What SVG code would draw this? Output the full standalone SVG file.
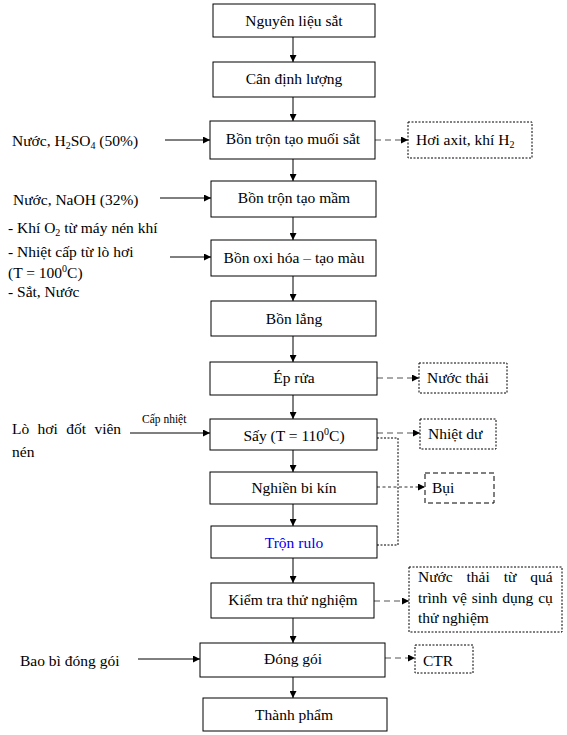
<svg xmlns="http://www.w3.org/2000/svg" width="567" height="735" viewBox="0 0 567 735" font-family="'Liberation Serif', 'DejaVu Serif', serif" font-size="15.5">
<style>
text{font-family:'Liberation Serif','DejaVu Serif',serif;font-size:15.5px;fill:#000}
.c{text-anchor:middle}
.box{fill:#fff;stroke:#000;stroke-width:1}
.sbox{fill:#fff;stroke:#000;stroke-width:1;stroke-dasharray:2,1.5}
.sbox2{fill:#fff;stroke:#000;stroke-width:1;stroke-dasharray:5,3}
.flow{stroke:#000;stroke-width:1;fill:none;marker-end:url(#ah)}
.dash{stroke:#555;stroke-width:1.2;fill:none;stroke-dasharray:6,4;marker-end:url(#ah)}
.dash2{stroke:#333;stroke-width:1;fill:none;stroke-dasharray:3,2.5;marker-end:url(#ah)}
.dot{stroke:#000;stroke-width:1;fill:none;stroke-dasharray:2,1.5}
.sub{font-size:10px}
.sm{font-size:11.5px}
</style>
<defs>
<marker id="ah" viewBox="0 0 10 10" refX="10" refY="5" markerWidth="7" markerHeight="7" markerUnits="userSpaceOnUse" orient="auto">
<path d="M0,0 L10,5 L0,10 z" fill="#000"/>
</marker>
</defs>

<g id="connectors">
<line class="flow" x1="293" y1="37" x2="293" y2="62"/>
<line class="flow" x1="293" y1="97" x2="293" y2="121"/>
<line class="flow" x1="293" y1="159" x2="293" y2="181"/>
<line class="flow" x1="293" y1="217" x2="293" y2="240"/>
<line class="flow" x1="293" y1="276" x2="293" y2="301"/>
<line class="flow" x1="293" y1="336" x2="293" y2="362"/>
<line class="flow" x1="293" y1="395" x2="293" y2="419"/>
<line class="flow" x1="293" y1="450" x2="293" y2="472"/>
<line class="flow" x1="293" y1="504" x2="293" y2="526"/>
<line class="flow" x1="293" y1="558" x2="293" y2="583"/>
<line class="flow" x1="293" y1="618" x2="293" y2="643"/>
<line class="flow" x1="293" y1="677" x2="293" y2="698"/>

<line class="flow" x1="165" y1="140" x2="210" y2="140"/>
<line class="flow" x1="160" y1="198" x2="211" y2="198"/>
<line class="flow" x1="170" y1="257" x2="211" y2="257"/>
<line class="flow" x1="130" y1="433" x2="210" y2="433"/>
<line class="flow" x1="138" y1="659" x2="200" y2="659"/>

<line class="dash" x1="375" y1="140" x2="408" y2="140"/>
<line class="dash" x1="377" y1="378" x2="419" y2="378"/>
<line class="dash" x1="377" y1="433" x2="420" y2="433"/>
<line class="dash2" x1="377" y1="487" x2="425" y2="487"/>
<line class="dash" x1="374" y1="601" x2="409" y2="601"/>
<line class="dash" x1="385" y1="658" x2="415" y2="658"/>

<polyline class="dot" points="377,438 398,438 398,545 377,545"/>
<text class="sm" x="142" y="423">Cấp nhiệt</text>
</g>

<g id="n1"><rect class="box" x="213" y="4" width="162" height="33"/><text class="c" x="294" y="26">Nguyên liệu sắt</text></g>
<g id="n2"><rect class="box" x="213" y="62" width="162" height="35"/><text class="c" x="294" y="84">Cân định lượng</text></g>
<g id="n3"><rect class="box" x="210" y="121" width="165" height="38"/><text class="c" x="293" y="144">Bồn trộn tạo muối sắt</text></g>
<g id="n4"><rect class="box" x="211" y="181" width="165" height="36"/><text class="c" x="294" y="203">Bồn trộn tạo mầm</text></g>
<g id="n5"><rect class="box" x="211" y="240" width="165" height="36"/><text class="c" x="294" y="263">Bồn oxi hóa – tạo màu</text></g>
<g id="n6"><rect class="box" x="211" y="301" width="165" height="35"/><text class="c" x="294" y="324">Bồn lắng</text></g>
<g id="n7"><rect class="box" x="210" y="362" width="167" height="33"/><text class="c" x="294" y="383">Ép rửa</text></g>
<g id="n8"><rect class="box" x="210" y="419" width="167" height="31"/><text class="c" x="294" y="441">Sấy (T = 110<tspan class="sub" dy="-6">0</tspan><tspan dy="6">C)</tspan></text></g>
<g id="n9"><rect class="box" x="210" y="472" width="167" height="32"/><text class="c" x="294" y="493">Nghiền bi kín</text></g>
<g id="n10"><rect class="box" x="211" y="526" width="166" height="32"/><text class="c" x="294" y="548" style="fill:#0000ee">Trộn rulo</text></g>
<g id="n11"><rect class="box" x="211" y="583" width="163" height="35"/><text class="c" x="293" y="605">Kiểm tra thử nghiệm</text></g>
<g id="n12"><rect class="box" x="200" y="643" width="185" height="34"/><text class="c" x="293" y="664">Đóng gói</text></g>
<g id="n13"><rect class="box" x="203" y="698" width="184" height="33"/><text class="c" x="294" y="720">Thành phẩm</text></g>

<g id="s1"><rect class="sbox" x="408" y="122" width="124" height="36"/><text x="416" y="145">Hơi axit, khí H<tspan class="sub" dy="3">2</tspan></text></g>
<g id="s2"><rect class="sbox" x="419" y="363" width="88" height="30"/><text x="427" y="383">Nước thải</text></g>
<g id="s3"><rect class="sbox" x="420" y="419" width="76" height="30"/><text x="428" y="439">Nhiệt dư</text></g>
<g id="s4"><rect class="sbox2" x="425" y="473" width="69" height="30"/><text x="432" y="493">Bụi</text></g>
<g id="s5"><rect class="sbox" x="409" y="567" width="153" height="65"/>
<text x="418" y="582" word-spacing="10">Nước thải từ quá</text>
<text x="418" y="603" word-spacing="1">trình vệ sinh dụng cụ</text>
<text x="418" y="623">thử nghiệm</text></g>
<g id="s6"><rect class="sbox" x="415" y="645" width="58" height="28"/><text x="423" y="666">CTR</text></g>

<g id="i1"><text x="12" y="146">Nước, H<tspan class="sub" dy="3">2</tspan><tspan dy="-3">SO</tspan><tspan class="sub" dy="3">4</tspan><tspan dy="-3"> (50%)</tspan></text></g>
<g id="i2"><text x="13" y="205">Nước, NaOH (32%)</text></g>
<g id="i3">
<text x="8" y="233">- Khí O<tspan class="sub" dy="3">2</tspan><tspan dy="-3"> từ máy nén khí</tspan></text>
<text x="8" y="257">- Nhiệt cấp từ lò hơi</text>
<text x="8" y="278">(T = 100<tspan class="sub" dy="-6">0</tspan><tspan dy="6">C)</tspan></text>
<text x="8" y="297">- Sắt, Nước</text>
</g>
<g id="i4"><text x="12" y="434" word-spacing="4.5">Lò hơi đốt viên</text><text x="12" y="457">nén</text></g>
<g id="i5"><text x="20" y="666">Bao bì đóng gói</text></g>
</svg>
